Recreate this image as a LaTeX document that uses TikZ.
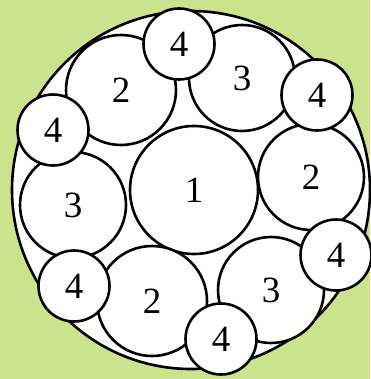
\documentclass[tikz,border=0pt]{standalone}
\usepackage{fontspec}
\setmainfont{Liberation Serif}
\usetikzlibrary{positioning}
\definecolor{cbg}{HTML}{CCE38E}
\tikzset{
  every picture/.style={line width=2.6pt},
  disc/.style={circle, draw=black, fill=white, inner sep=0pt, minimum size=#1,
               font=\fontsize{37}{37}\selectfont},
  disc/.default=106pt,
  small/.style={disc=71pt},
}

\begin{document}
\begin{tikzpicture}[x=1pt, y=-1pt]
  \fill[cbg] (0,0) rectangle (370,379);
  \useasboundingbox (0,0) rectangle (370,379);
  \node[disc=358pt] (outer) at (191,190) {};
  % ring of mid circles round the centre one
  \node[disc=128pt] (one) at (194,190) {1};
  \node[disc=110pt] (twoa) at (121,90) {2};
  \node[disc] (threea) at (242,78) {3};
  \node[disc] (twob) at (311,177) {2};
  \node[disc] (threeb) at (73,205) {3};
  \node[disc=110pt] (twoc) at (152,301) {2};
  \node[disc] (threec) at (271,290) {3};
  % the small ones
  \node[small] (foura) at (179,44) {4};
  \node[small] (fourb) at (317,95) {4};
  \node[small] (fourc) at (53,130) {4};
  \node[small] (fourd) at (74,286) {4};
  \node[small] (foure) at (221,339) {4};
  \node[small] (fourf) at (336,255) {4};
\end{tikzpicture}
\end{document}
